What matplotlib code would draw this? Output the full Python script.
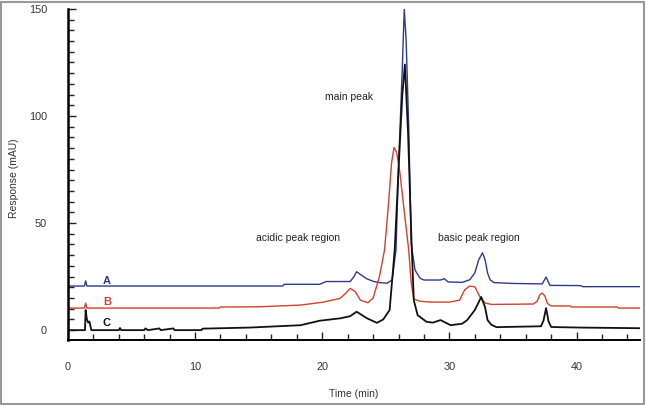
import matplotlib.pyplot as plt
from matplotlib.patches import Rectangle
from matplotlib.ticker import MultipleLocator

# chromatogram traces (time in min, response in mAU)
a_time = [0, 1.3, 1.4, 1.5, 1.6, 5, 10, 15, 16.9, 17.0, 19.8, 20.3, 22.2, 22.5, 22.7, 23.0,
          23.5, 24.0, 24.5, 25.1, 25.5, 25.8, 26.0, 26.3, 26.45, 26.6, 26.8, 27.0, 27.3,
          27.7, 28.0, 29.3, 29.6, 29.9, 31.0, 31.6, 32.0, 32.3, 32.6, 32.8, 33.0, 33.2,
          33.5, 35, 37.3, 37.6, 37.9, 40.3, 40.5, 45]
a_resp = [20.6, 20.6, 23, 20.6, 20.6, 20.6, 20.6, 20.6, 20.6, 21.4, 21.4, 22.7, 22.7, 25,
          27.3, 26, 24, 22.8, 22.2, 21.9, 23.5, 37.5, 76, 123, 150, 135, 95, 40, 28,
          24.2, 23.4, 23.4, 24, 22.5, 22.3, 23.5, 26.7, 32.8, 36.1, 33, 26.7, 23.5,
          22.2, 21.8, 21.6, 24.8, 20.9, 20.8, 20.3, 20.3]

b_time = [0, 1.3, 1.4, 1.5, 11.9, 12.0, 15, 18.3, 20.0, 21.4, 21.9, 22.2, 22.6, 23.0, 23.6,
          24.0, 24.5, 24.9, 25.2, 25.45, 25.65, 25.85, 26.1, 26.4, 26.8, 27.0, 27.2, 27.7,
          28.5, 30.0, 30.8, 31.2, 31.6, 32.0, 32.4, 32.8, 33.3, 36.6, 36.9, 37.1, 37.3,
          37.5, 37.7, 38.0, 39.5, 39.6, 43.2, 43.3, 45]
b_resp = [10.3, 10.3, 12.6, 10.3, 10.3, 10.8, 10.9, 11.7, 13, 14.8, 17.5, 19.5, 18, 14,
          12.8, 15, 25, 37.5, 58, 78, 85.3, 83, 74, 58, 37.5, 22, 14.5, 13.5, 13.1, 13.1,
          14, 18.8, 20.6, 20.2, 15.5, 12.7, 12, 12.2, 13.5, 16.5, 17.3, 16, 12.5, 11.3,
          11.3, 10.8, 10.8, 10.3, 10.3]

c_time = [0, 1.35, 1.4, 1.5, 1.6, 1.7, 1.85, 4.0, 4.1, 4.2, 6.0, 6.1, 6.3, 7.2, 7.3, 8.3,
          8.4, 10.5, 10.6, 14.3, 18.3, 19.8, 21.4, 22.2, 22.7, 23.0, 23.5, 24.3, 24.8,
          25.3, 25.7, 26.0, 26.3, 26.5, 26.75, 27.0, 27.2, 27.5, 28.2, 28.7, 29.3, 29.7,
          30.1, 31.0, 31.4, 32.0, 32.3, 32.5, 32.8, 33.0, 33.3, 33.7, 37.2, 37.4, 37.6,
          37.8, 38.0, 38.5, 40.3, 45]
c_resp = [0, 0, 9.4, 5, 3.5, 4, 0, 0, 1, 0, 0, 0.8, 0, 0.8, 0, 0.8, 0, 0, 0.7, 1.2, 2.3, 4.4,
          5.5, 6.5, 8.6, 7.5, 5.6, 3.4, 5, 9.4, 37.5, 75, 110, 124, 92, 45, 14, 7, 3.9,
          3.5, 4.7, 3.5, 2.3, 3, 4.7, 9.4, 13, 15.5, 10.8, 4.7, 2.5, 1.4, 1.8, 4.5, 10.3,
          4, 1.5, 1.4, 1.2, 0.9]

trace_names = ['A', 'B', 'C']
trace_colors = ['#2e3a8c', '#d2402f', '#111111']
name_pos = [(2.75, 23), (2.75, 13.1), (2.75, 3.3)]

plt.rcParams['font.family'] = ['Liberation Sans', 'DejaVu Sans']

fig = plt.figure(figsize=(6.46, 4.05), dpi=100)
ax = fig.add_axes([0.105, 0.16, 0.886, 0.818])

ax.plot(a_time, a_resp, color=trace_colors[0], lw=1.0)
ax.plot(b_time, b_resp, color=trace_colors[1], lw=1.0)
ax.plot(c_time, c_resp, color=trace_colors[2], lw=1.3)

for name, col, (x, y) in zip(trace_names, trace_colors, name_pos):
    ax.text(x, y, name, color=col, fontsize=8, fontweight='bold', ha='left', va='center')

ax.text(22.1, 108.8, 'main peak', fontsize=7.5, color='#222222', ha='center', va='center')
ax.text(18.1, 43.1, 'acidic peak region', fontsize=7.5, color='#222222', ha='center', va='center')
ax.text(32.3, 43.1, 'basic peak region', fontsize=7.5, color='#222222', ha='center', va='center')

ax.set_xlim(0, 45)
ax.set_ylim(-4.7, 150)
ax.xaxis.set_major_locator(MultipleLocator(10))
ax.xaxis.set_minor_locator(MultipleLocator(2))
ax.yaxis.set_major_locator(MultipleLocator(50))
ax.yaxis.set_minor_locator(MultipleLocator(5))

ax.tick_params(which='both', direction='in', colors='#222222', labelcolor='#333333', labelsize=7.8)
ax.tick_params(which='major', length=6, width=1.0)
ax.tick_params(which='minor', length=4, width=1.0)
ax.tick_params(axis='x', which='major', pad=16)
ax.tick_params(axis='y', which='major', pad=15)

for side in ['top', 'right']:
    ax.spines[side].set_visible(False)
ax.spines['left'].set_linewidth(1.8)
ax.spines['bottom'].set_linewidth(1.4)

ax.set_xlabel('Time (min)', fontsize=7.5, color='#333333', labelpad=12)
ax.set_ylabel('Response (mAU)', fontsize=7.5, color='#333333')
ax.yaxis.set_label_coords(-0.086, 0.49)

fig.patches.append(Rectangle((0.002, 0.003), 0.995, 0.993, transform=fig.transFigure,
                             fill=False, edgecolor='#999999', lw=1.5))

fig.savefig('out.png', dpi=100)
